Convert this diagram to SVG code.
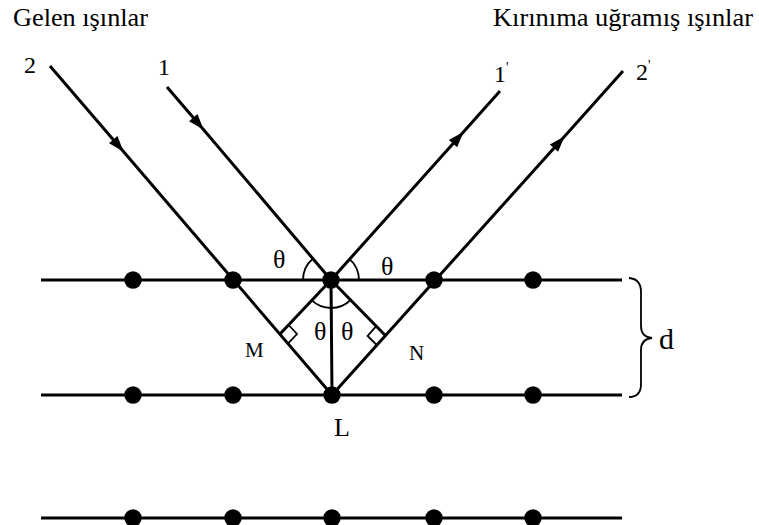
<svg xmlns="http://www.w3.org/2000/svg" width="759" height="525" viewBox="0 0 759 525">
<defs>
<marker id="arr" markerUnits="userSpaceOnUse" markerWidth="20" markerHeight="20" viewBox="-18 -8 20 16" refX="0" refY="0" orient="auto" overflow="visible">
<path d="M1,0 L-15,-5.5 L-15,5.5 Z" fill="#000"/>
</marker>
</defs>
<style>
.ln{stroke:#000;stroke-width:3;fill:none}
.thin{stroke:#000;stroke-width:1.8;fill:none}
.dot{fill:#000}
text{font-family:"Liberation Serif","Times New Roman",serif;fill:#000}
.hdr{font-size:26px}
.num{font-size:24px}
.th{font-size:26px}
.sm{font-size:21px}
</style>
<rect width="759" height="525" fill="#fff"/>
<g id="labels">
<text class="hdr" x="13" y="26" textLength="135" lengthAdjust="spacingAndGlyphs">Gelen ışınlar</text>
<text class="hdr" x="493" y="26" textLength="260" lengthAdjust="spacingAndGlyphs">Kırınıma uğramış ışınlar</text>
</g>
<g id="planes">
<line class="ln" x1="41" y1="280" x2="622" y2="280"/>
<line class="ln" x1="41" y1="395" x2="622" y2="395"/>
<line class="ln" x1="41" y1="518" x2="622" y2="518"/>
</g>
<g id="connectors">
<path class="ln" d="M50,66 L123,151 L332,395" marker-mid="url(#arr)"/>
<path class="ln" d="M167,87 L203,129 L331,280" marker-mid="url(#arr)"/>
<path class="ln" d="M331,280 L463,132.5 L500,91" marker-mid="url(#arr)"/>
<path class="ln" d="M332,395 L564,137 L623,71" marker-mid="url(#arr)"/>
<line class="ln" x1="331" y1="280" x2="332" y2="395"/>
<line class="ln" x1="331" y1="280" x2="280" y2="334"/>
<line class="ln" x1="331" y1="280" x2="385.4" y2="335.5"/>
</g>
<g id="angles">
<path class="thin" d="M303,280 A28,28 0 0 1 312.8,258.7"/>
<path class="thin" d="M349.6,259.1 A28,28 0 0 1 359,280"/>
<path class="thin" d="M350.6,300 A28,28 0 0 1 311.6,300.2"/>
<polyline class="thin" points="288.6,325 297,334 288.4,343.2"/>
<polyline class="thin" points="376.3,326.2 367.6,335.9 376.7,345"/>
</g>
<g id="dots">
<circle class="dot" cx="133" cy="280" r="8.7"/>
<circle class="dot" cx="233" cy="280" r="8.7"/>
<circle class="dot" cx="331" cy="280" r="8.7"/>
<circle class="dot" cx="434" cy="280" r="8.7"/>
<circle class="dot" cx="533" cy="280" r="8.7"/>
<circle class="dot" cx="133" cy="395" r="8.7"/>
<circle class="dot" cx="233" cy="395" r="8.7"/>
<circle class="dot" cx="332" cy="395" r="8.7"/>
<circle class="dot" cx="434" cy="395" r="8.7"/>
<circle class="dot" cx="533" cy="395" r="8.7"/>
<circle class="dot" cx="133" cy="518" r="8.7"/>
<circle class="dot" cx="233" cy="518" r="8.7"/>
<circle class="dot" cx="332" cy="518" r="8.7"/>
<circle class="dot" cx="434" cy="518" r="8.7"/>
<circle class="dot" cx="533" cy="518" r="8.7"/>
</g>
<g id="ray-labels">
<text class="num" x="24" y="73">2</text>
<text class="num" x="158" y="75">1</text>
<text class="num" x="494" y="82">1<tspan font-size="14" dy="-10">'</tspan></text>
<text class="num" x="636" y="80">2<tspan font-size="14" dy="-10">'</tspan></text>
</g>
<g id="angle-labels">
<text class="th" x="273" y="268">θ</text>
<text class="th" x="381" y="275">θ</text>
<text class="th" x="314" y="340">θ</text>
<text class="th" x="341" y="340">θ</text>
<text class="sm" x="245" y="357">M</text>
<text class="sm" x="409" y="360">N</text>
<text class="th" x="334" y="436">L</text>
</g>
<g id="spacing">
<path class="thin" d="M629,278 Q641,279 641,292 L641,326 Q641,337 652,338 Q641,339 641,350 L641,384 Q641,397 629,397"/>
<text x="659" y="349" font-size="30">d</text>
</g>
</svg>
